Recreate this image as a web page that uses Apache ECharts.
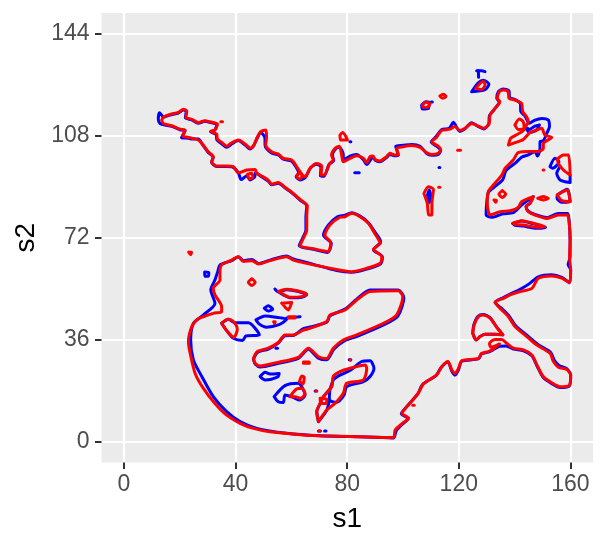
<!DOCTYPE html>
<html><head><meta charset="utf-8">
<script src="https://cdn.jsdelivr.net/npm/echarts@6/dist/echarts.min.js"></script>
<style>html,body{margin:0;padding:0;background:#fff}#c{width:607px;height:547px}</style>
</head><body><div id="c"></div>
<script>
const xTicks=[0,40,80,120,160];
const yTicks=[0,36,72,108,144];
const redMain=[[13.5,113.6],[14.1,114.6],[16.5,115.6],[19.5,116.3],[21.3,117.4],[22.5,116.8],[22.2,114.6],[24.3,113.9],[26.6,112.7],[29,113.4],[30.8,113],[33.5,112.2],[32.6,110.1],[31.1,109.7],[33.2,108.7],[33.5,106.9],[35.4,105.4],[36.8,104.4],[38.6,105.6],[41,106.6],[43.4,105.2],[45.2,103.7],[46.6,104.8],[47.6,107.2],[49,109.5],[50.8,110.1],[51.1,107.7],[50.8,104.8],[52.9,102.4],[55.3,101.6],[57.1,100.1],[60.1,99.5],[61.9,97.2],[63.1,95.4],[63.9,94.2],[63.1,92.8],[61.9,93.6],[62.8,95],[63.6,94.4],[64.9,93.6],[66.7,96.6],[69.1,98.3],[70.9,97.4],[70.6,94.2],[71.7,94.2],[73.8,98.3],[75,99.5],[74.4,101.3],[75.6,103.6],[77.2,104.4],[78,101.3],[78.6,98.9],[81,100.1],[83.4,101],[85.8,100.1],[87,98.6],[88.2,100.7],[89.3,100.9],[90,99.7],[91.7,99.2],[94.1,100.7],[95.3,101.9],[97.1,101.3],[98.3,101.5],[97.7,103.6],[100.1,104.2],[103.1,104.6],[106.1,104],[108.5,102.1],[110.3,101.5],[112.6,101.9],[113.5,103.3],[112.6,104.4],[110.3,106],[112,107.5],[113.8,109.9],[116.8,110.4],[118.6,111.3],[120.4,109.9],[122.2,110.7],[124.6,112.4],[127,111.5],[129,110.7],[130.9,112.4],[131.2,115.4],[133,117.7],[134.7,120.1],[133.8,121.3],[134.5,123.6],[135.9,124.2],[137.7,123.6],[138,121.3],[140.1,120.7],[142.5,119.5],[142.9,116.6],[144.3,114.8],[144.9,113.1],[143.7,111],[143.1,109.9],[140.7,108.4],[138.6,107.2],[137.8,104.8],[139.5,105.4],[142.9,106.6],[144.3,108],[145.5,109.2],[147.3,109.9],[149.7,110.7],[150.9,108.3],[153.3,107.5],[151.5,106.3],[150.3,105.4],[150.3,103.6],[148.5,102.5],[145.5,102.5],[141.3,102.1],[139.5,99.5],[136.6,96.6],[135.4,94.2],[132.4,90.7],[130.6,88.4],[130.2,84.2],[130.6,81.3],[131.2,80.1],[134.8,81.3],[138.4,81.6],[141.3,82.8],[142.5,84.8],[146.7,86.6],[145.5,84.2],[144.1,83.1],[144.9,81.3],[147.3,80.1],[151.5,78.9],[155.7,80.1],[158.9,80.1],[159.6,77.2],[159.9,71.3],[159.7,65.4],[160.1,60.7],[159.7,56.2],[156.9,57.8],[153.3,58.6],[148.5,57.8],[146.2,54.2],[142,53.1],[138.4,51.9],[136,50.7],[133,49.3],[135.4,46.6],[137.8,44.2],[140.2,40.7],[144.4,37.2],[148,34.2],[152.7,31.3],[153.9,28.4],[155.7,26.4],[158.7,25.6],[160.1,23.6],[159.7,20.1],[156.3,19.5],[153.3,20.9],[150.3,23],[148,27.2],[146.2,30.7],[143.2,32.5],[139.6,33.1],[137.2,34.8],[135.4,36.2],[133,36.2],[131,34.8],[131.5,33.4],[134.6,34.6],[132.2,32.7],[130.6,31.9],[128.2,31.3],[127,29.5],[121.1,28.7],[119.9,26],[118.7,24.2],[117.5,25.4],[116.1,28.4],[113.9,26.6],[112.1,23.7],[107.3,20.5],[105.5,17.2],[101.4,12.5],[99.6,10.1],[102,8.4],[99.6,6.4],[97.2,4.2],[96.6,1.6],[93,1.6],[81,1.9],[73.8,2.1],[64.3,2.5],[52.3,3.6],[46.4,4.8],[41.6,6.6],[36.8,9.5],[32.6,13.6],[28.4,19],[25.5,24.2],[23.7,31.3],[23.1,35.5],[24.3,40.7],[26.1,43.1],[28.4,44.2],[32,45.4],[35,46],[35,47.8],[32.6,51.9],[32,54.2],[34.4,57.2],[34.4,60.1],[35,62.5],[38.6,64.2],[41,65.4],[42.8,63.7],[45.8,64],[48.2,62.8],[52.3,64],[58.3,65.4],[60.7,64.2],[67.9,62.5],[76.2,60.9],[81.6,60.1],[87,61.3],[91.8,63.1],[92.4,65.4],[89.4,68],[91.8,70.1],[91.7,70.7],[89.9,73.6],[87.6,77.2],[84.6,79.5],[81.6,80.7],[79.2,79.5],[77.4,79.3],[73.8,76.6],[72,73],[74.1,70.3],[73.2,67.2],[67.9,68.2],[63.1,69.3],[64.3,71.9],[65.5,74.8],[65.5,79.5],[65.7,83.4],[63.1,85.6],[60.7,87.7],[57.7,89.9],[55.3,91.6],[52.9,91],[51.7,92.4],[49.3,93.9],[47.6,94.8],[47,96.2],[44,96],[41,95],[39.2,97.2],[36.8,97.4],[33.2,97.4],[31.4,98.9],[32,100.7],[30.2,102.4],[28.4,104.8],[26.6,106.6],[24.3,107.2],[23.1,107.5],[21,108],[21.9,110.1],[20.1,110.4],[17.1,111.6],[14.1,112.4],[13.5,113.6]];
const redLongIsland=[[46.4,29.5],[47.8,31.9],[51.7,33.1],[55.3,35.1],[57.7,37.8],[60.7,37.8],[64.3,39.5],[66.7,40.1],[72.7,42.5],[73.8,44.8],[79.2,46.6],[83.4,50.1],[88.2,53.1],[98.3,53.4],[99.9,51.3],[97.7,44.8],[93,41.9],[83.4,37.8],[78.6,36],[75,33.1],[72.7,29.5],[69.7,30.1],[66.1,33.1],[62.5,29.9],[54.7,28],[48.8,26.8],[47,27.8],[46.4,29.5]];
const redSouthIsland=[[69.7,7.2],[69.1,10.7],[70.3,13.6],[71.5,16],[74.4,19.5],[75,23.1],[77.4,24.8],[81,26],[86.4,27.2],[87,26],[85.8,21.9],[79.8,20.7],[78.6,17.2],[75.6,13.6],[72.7,11.3],[69.7,7.2]];
const redSouthBlob=[[70.3,15.4],[72.7,15.1],[72.4,13.6],[70.5,13.6],[70.3,15.4]];
const redWestPatch=[[35,41.9],[37.4,43.3],[39.2,42.5],[40.6,39.8],[39.4,36.9],[36.8,39.3],[35,41.9]];
const redRing=[[45.8,57.6],[47,56.4],[45.8,55.2],[44.6,56.4],[45.8,57.6]];
const redSpot1=[[23.2,67],[24.2,67],[23.9,66.1],[23.2,67]];
const redFlat=[[55.3,53.1],[58.3,53.9],[62.5,53.3],[65.5,52.2],[63.7,51.3],[59.5,51.1],[57.1,52.1],[55.3,53.1]];
const redTri=[[56.5,49],[60.1,49.2],[58.9,46.6],[58.1,47.2],[56.5,49]];
const redCentre=[[53.6,42.4],[54.2,42.4],[53.9,41.8]];
const redBar=[[58.9,44.2],[61.3,44.2],[61.3,43.8],[58.9,43.8]];
const redDash=[[64.3,28.2],[66.4,28.2],[66.4,27.8],[64.3,27.8]];
const redHookA=[[59.5,16],[61.7,18.6],[63.7,19],[64.9,17],[63.3,15.4],[61.3,16],[59.5,16]];
const redHookB=[[62.9,21.3],[63.7,23.3],[64.6,22.8],[64.1,20.5],[62.9,21.3]];
const redDots=[[81,29.1],[81.2,28.9]];
const redDots2=[[68.7,18],[69,18]];
const redDots3=[[69.9,3.9],[70.2,3.9]];
const redTiny=[[34.7,113],[35.3,113]];
const redBlobN=[[44.2,94.4],[45.8,94.8],[46.2,93.4],[45,92.8],[44.2,94.4]];
const redHookTri=[[77.4,108.3],[78.4,109.2],[80.1,106.6],[77.7,106.6],[77.4,108.3]];
const redE1=[[119.6,103],[120.6,103]];
const redE2=[[112.8,89.9],[113.2,89.9]];
const redNeedle=[[107.5,87.7],[109.1,90.1],[110.9,89.2],[110.4,84.8],[110.3,80.1],[109.2,80.1],[108.7,84.2],[107.5,87.7]];
const redN1=[[113.2,122.1],[114.4,122.7],[115.4,121.9],[114.2,121.3],[113.2,122.1]];
const redN2=[[107,118.9],[108.2,119.9],[109.7,119.5],[108.7,118.1],[107.3,118.1],[107,118.9]];
const redN3=[[126.1,124.8],[127.6,126.6],[128.8,127.2],[129.4,126],[128.2,124.4],[126.1,124.8]];
const redBay=[[140.1,111.9],[141.7,114],[143.1,113],[143.4,110.7],[141.3,110.3],[140.1,111.9]];
const redE3=[[155.3,99.8],[157.5,101.3],[159.3,101.3],[159.9,94.2],[157.5,96],[155.7,98.3],[155.3,99.8]];
const redE4=[[155.3,87.2],[158.9,88.9],[159.9,84.8],[156.9,85.2],[155.3,87.2]];
const redRing2=[[135.6,88.7],[136.8,87.5],[135.6,86.3],[134.4,87.5],[135.6,88.7]];
const redSpot2=[[132.6,85.4],[133.5,85.3],[133.2,84.6],[132.6,85.4]];
const redFlat2=[[148.3,86],[150.3,86.6],[152.1,86],[150.3,85.4],[148.3,86]];
const redSpot3=[[150.2,96],[150.5,96]];
const redStrip=[[139.5,77.2],[142.5,78.1],[146.7,77.2],[150.9,76],[147.9,75.8],[143.1,76.6],[140.1,76.8],[139.5,77.2]];
const redSpot4=[[103.5,13],[104,13]];
const redGulfLoop=[[125,38.4],[125.5,41.3],[127,44.2],[128.8,44.8],[131.2,43.7],[133.6,40.5],[135.8,37.8],[133,38],[129.4,38],[127.6,37.2],[126.2,36],[125,38.4]];

const blueMain=[[14.1,114.6],[12.7,116.2],[12.3,113.9],[12.9,112.4],[14.7,111.9],[17.1,111.4],[20.1,110.2],[21.9,109.8],[20.6,107.4],[23.1,107.2],[24.3,106.9],[26.6,106.9],[28.4,104.6],[30.2,102.2],[32,100.5],[31.4,98.7],[33.2,97.2],[36.8,97.2],[39,97],[41,95],[42,92.6],[44,94],[45.2,92.5],[46.8,93.5],[47.2,95],[49.3,93.6],[51.7,92.1],[52.9,90.8],[55.3,91.3],[57.7,89.7],[60.7,87.5],[63.1,85.4],[65.5,83.3],[65.2,79.5],[65.2,74.8],[64,71.9],[62.8,69.3],[67.9,68],[73,66.9],[74.3,70.1],[71.5,73],[73.3,76.6],[76.5,79.5],[79.2,80],[81.6,80.9],[84.6,79.7],[87.6,77.4],[90.1,73.8],[92,70.7],[91.7,70.1],[89.4,67.8],[92.6,65.4],[92,62.9],[87,61],[81.6,59.9],[76.2,60.5],[67.9,62.7],[60.7,64.6],[58.3,65.6],[52.3,64.2],[48.2,63],[45.8,64.4],[42.8,64],[41,65.4],[38.6,64],[34.4,62.5],[33.6,60.1],[32.6,57.2],[31.1,53.7],[32.6,48.9],[28.4,44.8],[24.9,41.9],[23.9,36],[24.9,28.9],[27.9,23.1],[32,16],[36.8,10.7],[41.6,7.2],[47.6,4.8],[58.3,3.1],[70.3,2.2],[81,1.9],[93,1.6],[96.6,1.4],[97.6,4],[99.9,6.4],[101.8,8.2],[99.4,10],[101.2,12.3],[105.3,17],[107,20.3],[111.8,23.4],[113.6,26.2],[116.1,28.2],[117.5,25],[118.7,23.6],[119.9,25.5],[121.1,28.5],[127,29.3],[128.2,31.1],[130.6,31.7],[132.2,32.5],[134.6,33.8],[137,33.9],[139.6,32.8],[143.2,32.2],[146.2,30.4],[148,26.9],[150.3,22.7],[153.3,20.6],[156.3,19.2],[159.7,19.9],[160.1,23.6],[158.7,25.9],[155.9,27],[154.3,28.7],[152.9,31.6],[148.2,34.5],[144.6,37.5],[140.4,41],[138,44.5],[135.6,46.9],[133,49.3],[136,51],[138.4,52.2],[142,53.9],[145.2,55.8],[148.5,58.3],[153.3,59],[156.9,58.1],[159.7,56.2],[160.1,60.7],[159.2,62.6],[159.9,65.4],[159.9,71.3],[159.6,77.2],[159,80.6],[155.7,80.6],[151.5,79.2],[147.3,80.3],[144.9,81.5],[144.1,83.1],[145.5,84.2],[146.7,86.6],[142.5,83.6],[139.5,80.9],[135.8,80.5],[131.8,79.3],[129.8,80.1],[130,84.2],[130.6,88.1],[132.6,89.9],[135.7,92.5],[136.9,95.8],[140.1,98.3],[142.5,100.5],[144.9,101.3],[147.3,102.5],[148.2,100.9],[149.1,103.6],[149.1,106],[150.3,106.3],[151.5,108.9],[152.5,111.3],[152.1,113.6],[149.7,114.2],[147.3,113.6],[145.3,112.5],[143.7,115.1],[142.2,116.6],[142.1,119.3],[140.1,120.9],[138.2,121.6],[138,123.9],[135.9,124.6],[134.3,123.8],[133.6,121.3],[134.5,120],[132.8,117.5],[131,115.2],[130.7,112.2],[129,110.5],[127,111.3],[124.6,112.7],[122.2,110.5],[120.4,109.6],[118,112.8],[116.6,110.7],[113.8,110.2],[111.8,107.7],[110.1,105.9],[112.6,104],[113.5,102.9],[112.6,101.5],[110.3,101.2],[108.5,101.8],[106.1,104.4],[103.1,105],[100.1,104.7],[97.4,104.4],[98.3,101.2],[97.1,101],[95.3,101.5],[94.1,100.4],[91.7,98.9],[90,99.4],[89.3,100.6],[87,97.9],[85.8,99.6],[83.4,101.5],[81,100.9],[78.6,99.2],[78.6,101.5],[77.2,104],[75.8,103.4],[74.7,101.2],[75.2,99.3],[73.5,98],[71.7,93.8],[70.4,93.9],[70.6,97],[69.1,98],[66.9,96.8],[65,93.3],[63.1,92.5],[61.7,93.6],[62.6,95],[61.7,97],[60,99.2],[57.1,99.8],[55.3,101.3],[52.7,102.1],[50.6,104.5],[50.5,107.4],[49.7,108.7],[49,109.2],[47.6,106.9],[46.4,104.5],[45.2,103.4],[43.2,105],[41,106.4],[38.6,105.2],[36.8,104],[35.2,105.1],[33.3,106.6],[33,108.5],[31,109.5],[32.4,109.9],[33.3,112],[30.8,112.8],[29,113.2],[26.6,112.5],[24.3,113.7],[22,114.4],[22.3,116.6],[21.3,117.2],[19.5,116.1],[16.5,115.4],[14.1,114.6]];
const blueLongIsland=[[46.4,29.2],[47.8,31.6],[51.7,32.8],[55.3,34.9],[57.7,37.5],[60.7,37.6],[64.3,40],[66.7,40.6],[72.7,42.3],[73.8,44.5],[79.2,46.9],[83.4,50.4],[88.2,53.6],[98.3,53.6],[100.3,51],[98.1,44.3],[93.4,41.5],[83.8,37.4],[78.8,35.6],[75.2,32.7],[72.7,29],[69.5,29.7],[66.1,32.7],[62.5,29.5],[54.7,27.6],[48.8,26.5],[47,27.5],[46.4,29.2]];
const blueSouthIsland=[[69.7,7.2],[69.1,10.7],[70.3,13.6],[71.5,16],[74.4,19.5],[75,21.9],[77.4,23.6],[81,25.2],[85.2,28.4],[88.2,28.7],[89.6,26],[88.2,23.1],[85.8,21.3],[79.8,19.5],[78.9,16.6],[76.2,14],[73.6,14.8],[73.8,18.4],[75,21.9]];
const blueSouthTail=[[73.6,14.8],[72.7,11.3],[69.7,7.2]];
const blueWestPatch=[[35,41.9],[37.4,43.3],[39.8,42.1],[44.6,42.1],[48.5,37.8],[43.7,37.4],[42.5,35.8],[39.2,36.6],[36.8,39.3],[35,41.9]];
const blueDot1=[[28.9,60],[30.4,59.8],[30.3,58.5],[29,58.5],[28.9,60]];
const blueFlat=[[54.1,54],[55.3,53],[58.3,53.7],[62.5,53.1],[65.5,52],[63.7,51.1],[59.5,50.9],[57.1,51.9],[55.3,53]];
const blueSmall=[[50.3,47.2],[51.7,48.1],[53.3,46.8],[51.7,46.2],[50.3,47.2]];
const blueLens=[[47.3,43.1],[50.6,44.5],[54.7,44],[58.3,43.3],[55.3,41.3],[51.1,40.5],[48.5,41.6],[47.3,43.1]];
const blueBar=[[58.3,43.8],[63.1,44.2]];
const blueDot2=[[54.5,33.1],[55,33.1]];
const blueOval=[[48.8,23.1],[50.6,24.6],[52.3,24],[55.6,24.2],[55.3,23.1],[50.6,21.9],[48.8,23.1]];
const blueHook=[[53.8,16],[55.3,14.2],[57.1,13.9],[57.7,16.6],[60.1,16],[63.1,14.8],[64.9,16.6],[63.7,19.5],[62.5,20.7],[57.7,19.9],[53.8,16]];
const blueDots=[[80.7,29],[81.3,29]];
const blueDots2=[[68.5,18],[69.1,18]];
const blueDots3=[[69.7,3.9],[70.4,3.9]];
const blueDots4=[[71.9,3.9],[72.4,3.9]];
const blueN0=[[81,106],[81.3,106]];
const blueN00=[[82.7,95],[84.3,95]];
const blueN01=[[112.9,96.9],[113.2,96.9]];
const blueNeedle=[[108.8,87.2],[109.4,88.9],[109.9,87.2],[109.4,84.4],[108.8,87.2]];
const blueN2=[[106.7,118.9],[108.2,120.1],[109.4,119.8],[109.1,117.7],[107,117.5],[106.7,118.9]];
const blueN2b=[[110.1,120],[110.5,120]];
const blueN3=[[124.6,123.6],[127,126.8],[128.8,127.7],[130.8,126.3],[129.4,124.4],[124.6,123.6]];
const blueN3b=[[126.4,131],[128.2,131],[129.4,130.7]];
const blueN3c=[[127,131],[127.1,128.7]];
const blueInner=[[143.7,111.3],[145.5,110.4],[147.3,111.5],[148.9,111.9],[147.9,110.1],[145.5,109.2],[143.7,111.3]];
const blueE1=[[152.7,97.2],[154.5,100.1],[155.9,98.9],[155.3,97.8],[153.6,96.6],[152.7,97.2]];
const blueE2=[[156.3,97.2],[155.1,94.8],[156.3,92.5],[159.9,91.6],[159.9,94.2]];
const blueE3=[[155.3,87.2],[158.9,89.2],[159.9,84.8],[157,84.6],[155.2,86],[155.3,87.2]];
const blueStrip=[[139.3,77.1],[142.5,78],[146.7,77],[151.1,75.8],[147.9,75.4],[143.1,76.2],[140.1,76.5],[139.3,77.1]];
const blueGulfLoop=[[125,38.4],[125.4,41.4],[126.9,44.4],[128.8,45],[131.2,43.9],[133.6,40.5],[135.8,37.8],[133,38],[129.4,38],[127.6,37.2],[126.2,36],[125,38.4]];

const blueLoops=[blueMain,blueLongIsland,blueSouthIsland,blueSouthTail,blueWestPatch,blueDot1,blueFlat,blueSmall,blueLens,blueBar,blueDot2,blueOval,blueHook,blueDots,blueDots2,blueDots3,blueDots4,blueN0,blueN00,blueN01,blueNeedle,blueN2,blueN2b,blueN3,blueN3b,blueN3c,blueInner,blueE1,blueE2,blueE3,blueStrip,blueGulfLoop];
const redLoops=[redMain,redLongIsland,redSouthIsland,redSouthBlob,redWestPatch,redRing,redSpot1,redFlat,redTri,redCentre,redBar,redDash,redHookA,redHookB,redDots,redDots2,redDots3,redTiny,redBlobN,redHookTri,redE1,redE2,redNeedle,redN1,redN2,redN3,redBay,redE3,redE4,redRing2,redSpot2,redFlat2,redSpot3,redStrip,redSpot4,redGulfLoop];

const mk=(d,col,z)=>({type:'line',data:d,showSymbol:false,symbol:'none',smooth:0.25,z:z,silent:true,animation:false,
  lineStyle:{color:col,width:3,cap:'round',join:'round'}});
const chart=echarts.init(document.getElementById('c'),null,{renderer:'canvas'});
const font='"Liberation Sans",Arial,sans-serif';
const axisCommon=(ticks,margin,extra)=>Object.assign({
  type:'value',
  axisLine:{show:false,onZero:false},
  axisTick:{show:true,customValues:ticks,length:6.5,lineStyle:{color:'#333333',width:2}},
  axisLabel:{show:true,customValues:ticks,color:'#4D4D4D',fontFamily:font,fontSize:23,margin:margin,hideOverlap:false,showMinLabel:true,showMaxLabel:true},
  splitLine:{show:true,lineStyle:{color:'#FFFFFF',width:2.2}},
  minorSplitLine:{show:false},
  nameLocation:'middle',
  nameTextStyle:{color:'#000',fontFamily:font,fontSize:28}
},extra);
chart.setOption({
  animation:false,
  backgroundColor:'#fff',
  grid:{left:101.5,right:14,top:13,bottom:84.5,show:true,backgroundColor:'#EBEBEB',borderWidth:0},
  xAxis:axisCommon(xTicks,11,{min:-8.06,max:168.1,name:'s1',nameGap:43}),
  yAxis:axisCommon(yTicks,12,{min:-7.24,max:151.4,name:'s2',nameGap:60}),
  series:[...blueLoops.map(d=>mk(d,'#0000FF',2)),...redLoops.map(d=>mk(d,'#FF0000',3))]
});
</script></body></html>
